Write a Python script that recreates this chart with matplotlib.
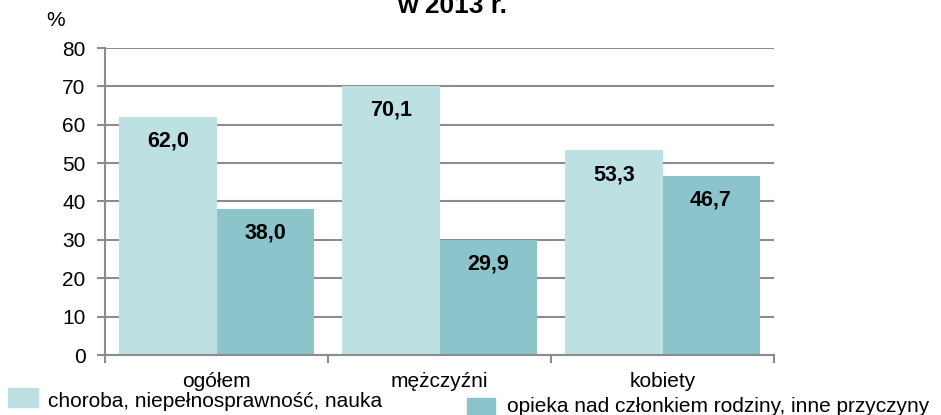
import numpy as np
import matplotlib
matplotlib.use("Agg")
import matplotlib.pyplot as plt
from matplotlib.patches import Rectangle

plt.rcParams['font.family'] = ['Liberation Sans', 'DejaVu Sans']

# dane
kategorie = ["ogółem", "mężczyźni", "kobiety"]
choroba = [62.0, 70.1, 53.3]
opieka = [38.0, 29.9, 46.7]
serie = ["choroba, niepełnosprawność, nauka", "opieka nad członkiem rodziny, inne przyczyny"]
kolory = ["#bde0e2", "#8bc5cb"]

fig = plt.figure(figsize=(9.41, 4.15), dpi=100)
ax = fig.add_axes([105 / 941, 1 - 355 / 415, 669 / 941, 307 / 415])

x = np.arange(len(kategorie))
w = 0.435
b1 = ax.bar(x - w / 2, choroba, w, color=kolory[0], zorder=2)
b2 = ax.bar(x + w / 2, opieka, w, color=kolory[1], zorder=2)

for bars, vals in ((b1, choroba), (b2, opieka)):
    for r, v in zip(bars, vals):
        ax.text(r.get_x() + r.get_width() / 2, v - 6.3, f"{v:.1f}".replace(".", ","),
                ha="center", va="center", fontsize=15.5, fontweight="bold", zorder=3)

ax.set_xlim(-0.5, 2.5)
ax.set_ylim(0, 80)
ax.set_yticks(range(0, 81, 10))
ax.yaxis.grid(True, color="#8c8c8c", linewidth=1.5, zorder=0)
ax.set_xticks([-0.5, 0.5, 1.5, 2.5])
ax.set_xticklabels([])
ax.set_xticks(x, minor=True)
ax.set_xticklabels(kategorie, minor=True)
ax.tick_params(axis="x", which="major", length=6, color="#8c8c8c", width=1.5, direction="out")
ax.tick_params(axis="x", which="minor", length=0, labelsize=15, pad=12)
ax.tick_params(axis="y", length=6, color="#8c8c8c", width=1.5, labelsize=15, pad=8)
for s in ("top", "right"):
    ax.spines[s].set_visible(False)
for s in ("left", "bottom"):
    ax.spines[s].set_color("#8c8c8c")
    ax.spines[s].set_linewidth(1.5)

fig.text(56 / 941, 1 - 20 / 415, "%", fontsize=15, ha="center", va="center")
fig.text(452 / 941, 1 - 13 / 415, "w 2013 r.", fontsize=19, fontweight="bold",
         ha="center", va="baseline")

# legenda
fig.patches.append(Rectangle((8 / 941, 1 - 407 / 415), 30 / 941, 19 / 415,
                             transform=fig.transFigure, color=kolory[0]))
fig.text(48 / 941, 1 - 401 / 415, serie[0], fontsize=15, va="center")
fig.patches.append(Rectangle((467 / 941, 1 - 417 / 415), 28 / 941, 19 / 415,
                             transform=fig.transFigure, color=kolory[1]))
fig.text(507 / 941, 1 - 406 / 415, serie[1], fontsize=15, va="center")

fig.savefig("out.png", dpi=100)
